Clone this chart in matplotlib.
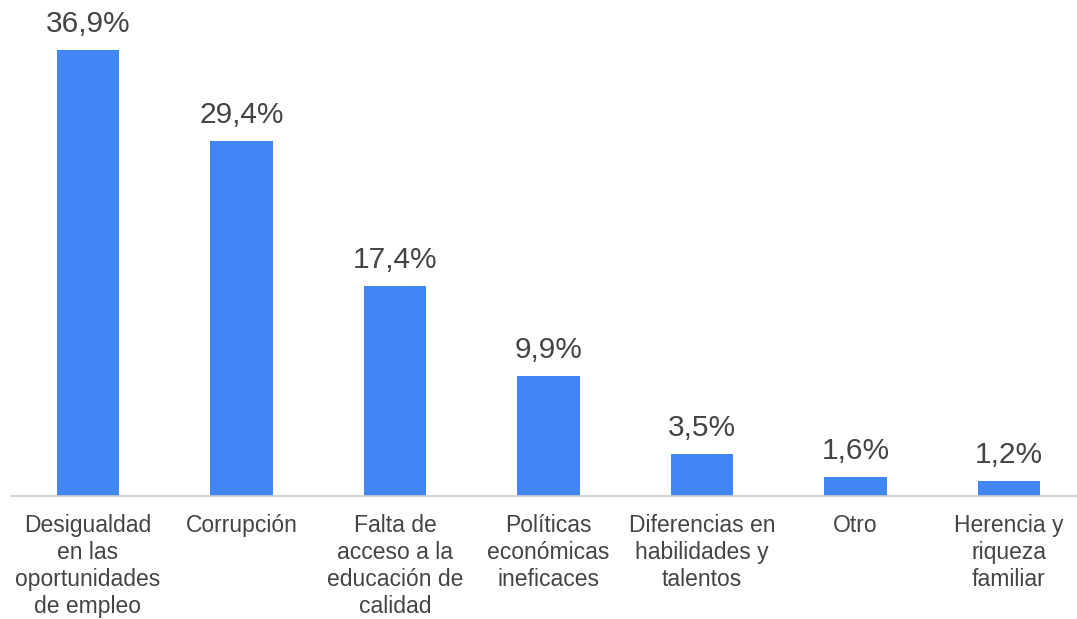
"""
Gráfico de barras: causas percibidas de la desigualdad.
"""

import matplotlib
matplotlib.use('Agg')
import matplotlib.pyplot as plt

categorias = [
    "Desigualdad\nen las\noportunidades\nde empleo",
    "Corrupción",
    "Falta de\nacceso a la\neducación de\ncalidad",
    "Políticas\neconómicas\nineficaces",
    "Diferencias en\nhabilidades y\ntalentos",
    "Otro",
    "Herencia y\nriqueza\nfamiliar",
]
valores = [36.9, 29.4, 17.4, 9.9, 3.5, 1.6, 1.2]
etiquetas = ["36,9%", "29,4%", "17,4%", "9,9%", "3,5%", "1,6%", "1,2%"]

plt.rcParams['font.family'] = ['Liberation Sans', 'DejaVu Sans']

W, H = 1077, 619
fig = plt.figure(figsize=(W / 100, H / 100), dpi=100)

# axe: ligne de base à y=496 px, 12.09 px par unité
base_px = 496
px_unit = 12.09
ytop = base_px / px_unit
ax = fig.add_axes([11.25 / W, (H - base_px) / H, 1 - 11.25 / W, base_px / H])

x = range(len(valores))
ax.bar(x, valores, width=0.41, color='#4285F4', zorder=2)
ax.set_xlim(-0.5, (W - 88) / 153.5)
ax.set_ylim(0, ytop)

for xi, v, lab in zip(x, valores, etiquetas):
    ax.annotate(lab, (xi, v), xytext=(0, 12), textcoords='offset pixels',
                ha='center', va='bottom', fontsize=21.5, color='#444444')

ax.set_xticks(list(x))
ax.set_xticklabels(categorias, fontsize=16.5, color='#444444', linespacing=1.22)
ax.tick_params(axis='x', length=0, pad=13)
ax.set_yticks([])

for s in ['top', 'right', 'left']:
    ax.spines[s].set_visible(False)
ax.spines['bottom'].set_color('#cccccc')
ax.spines['bottom'].set_linewidth(1.2)

fig.savefig('out.png', dpi=100)
plt.close(fig)
